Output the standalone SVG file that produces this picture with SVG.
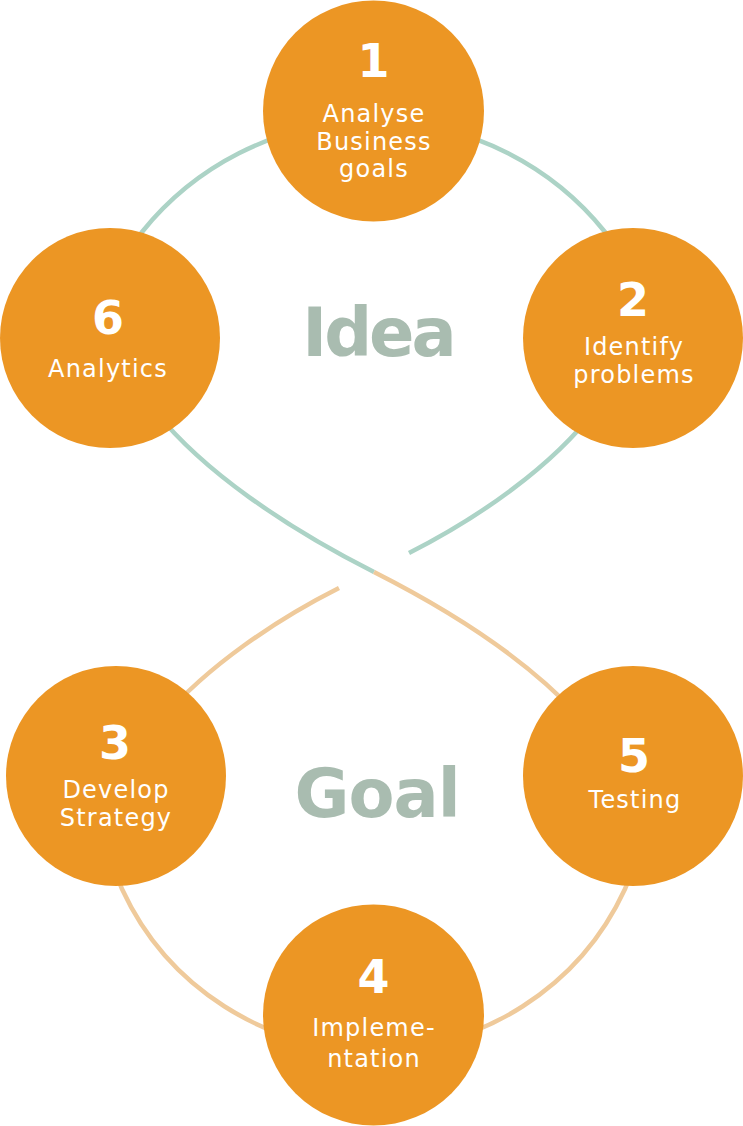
<svg xmlns="http://www.w3.org/2000/svg" width="743" height="1126" viewBox="0 0 743 1126">
  <style>
    .node { fill: #ec9624; }
    .num { font-family: "DejaVu Sans", sans-serif; font-weight: bold; font-size: 46px; fill: #ffffff; text-anchor: middle; }
    .lbl { font-family: "DejaVu Sans", sans-serif; font-size: 24px; letter-spacing: 1.2px; fill: #ffffff; text-anchor: middle; }
    .big { font-family: "DejaVu Sans", sans-serif; font-weight: bold; font-size: 67px; fill: #a9bcb0; text-anchor: middle; }
    .teal { fill: none; stroke: #acd3c6; stroke-width: 4.5; stroke-linecap: butt; }
    .peach { fill: none; stroke: #efca9b; stroke-width: 4.5; stroke-linecap: butt; }
  </style>
  <rect width="743" height="1126" fill="#ffffff"/>
  <g id="connectors">
    <path class="teal" d="M 374,572 C 196,482 48,349 142,232 A 297 297 0 0 1 605,232 C 699,349 551,481 409,553"/>
    <path class="peach" d="M 339,588 C 214,651 67,771 122,889 A 277 277 0 0 0 625,889 C 680,771 530,651 374,572"/>
  </g>
  <g id="label-idea">
    <text class="big" x="378" y="356" letter-spacing="-3">Idea</text>
  </g>
  <g id="label-goal">
    <text class="big" x="377" y="817" letter-spacing="-1">Goal</text>
  </g>
  <g id="node1">
    <circle class="node" cx="373.5" cy="111" r="110.5"/>
    <text class="num" x="373.5" y="77">1</text>
    <text class="lbl" x="374" y="122">Analyse</text>
    <text class="lbl" x="374" y="150">Business</text>
    <text class="lbl" x="374" y="177">goals</text>
  </g>
  <g id="node2">
    <circle class="node" cx="633" cy="338" r="110"/>
    <text class="num" x="633" y="316">2</text>
    <text class="lbl" x="634" y="355">Identify</text>
    <text class="lbl" x="634" y="383">problems</text>
  </g>
  <g id="node3">
    <circle class="node" cx="116" cy="776" r="110"/>
    <text class="num" x="115" y="759">3</text>
    <text class="lbl" x="116" y="798">Develop</text>
    <text class="lbl" x="116" y="826">Strategy</text>
  </g>
  <g id="node4">
    <circle class="node" cx="373.5" cy="1015" r="110.5"/>
    <text class="num" x="373.5" y="993">4</text>
    <text class="lbl" x="374" y="1036">Impleme-</text>
    <text class="lbl" x="374" y="1067">ntation</text>
  </g>
  <g id="node5">
    <circle class="node" cx="633" cy="776" r="110"/>
    <text class="num" x="634" y="772">5</text>
    <text class="lbl" x="635" y="808">Testing</text>
  </g>
  <g id="node6">
    <circle class="node" cx="110" cy="338" r="110"/>
    <text class="num" x="108" y="334">6</text>
    <text class="lbl" x="108" y="377">Analytics</text>
  </g>
</svg>
